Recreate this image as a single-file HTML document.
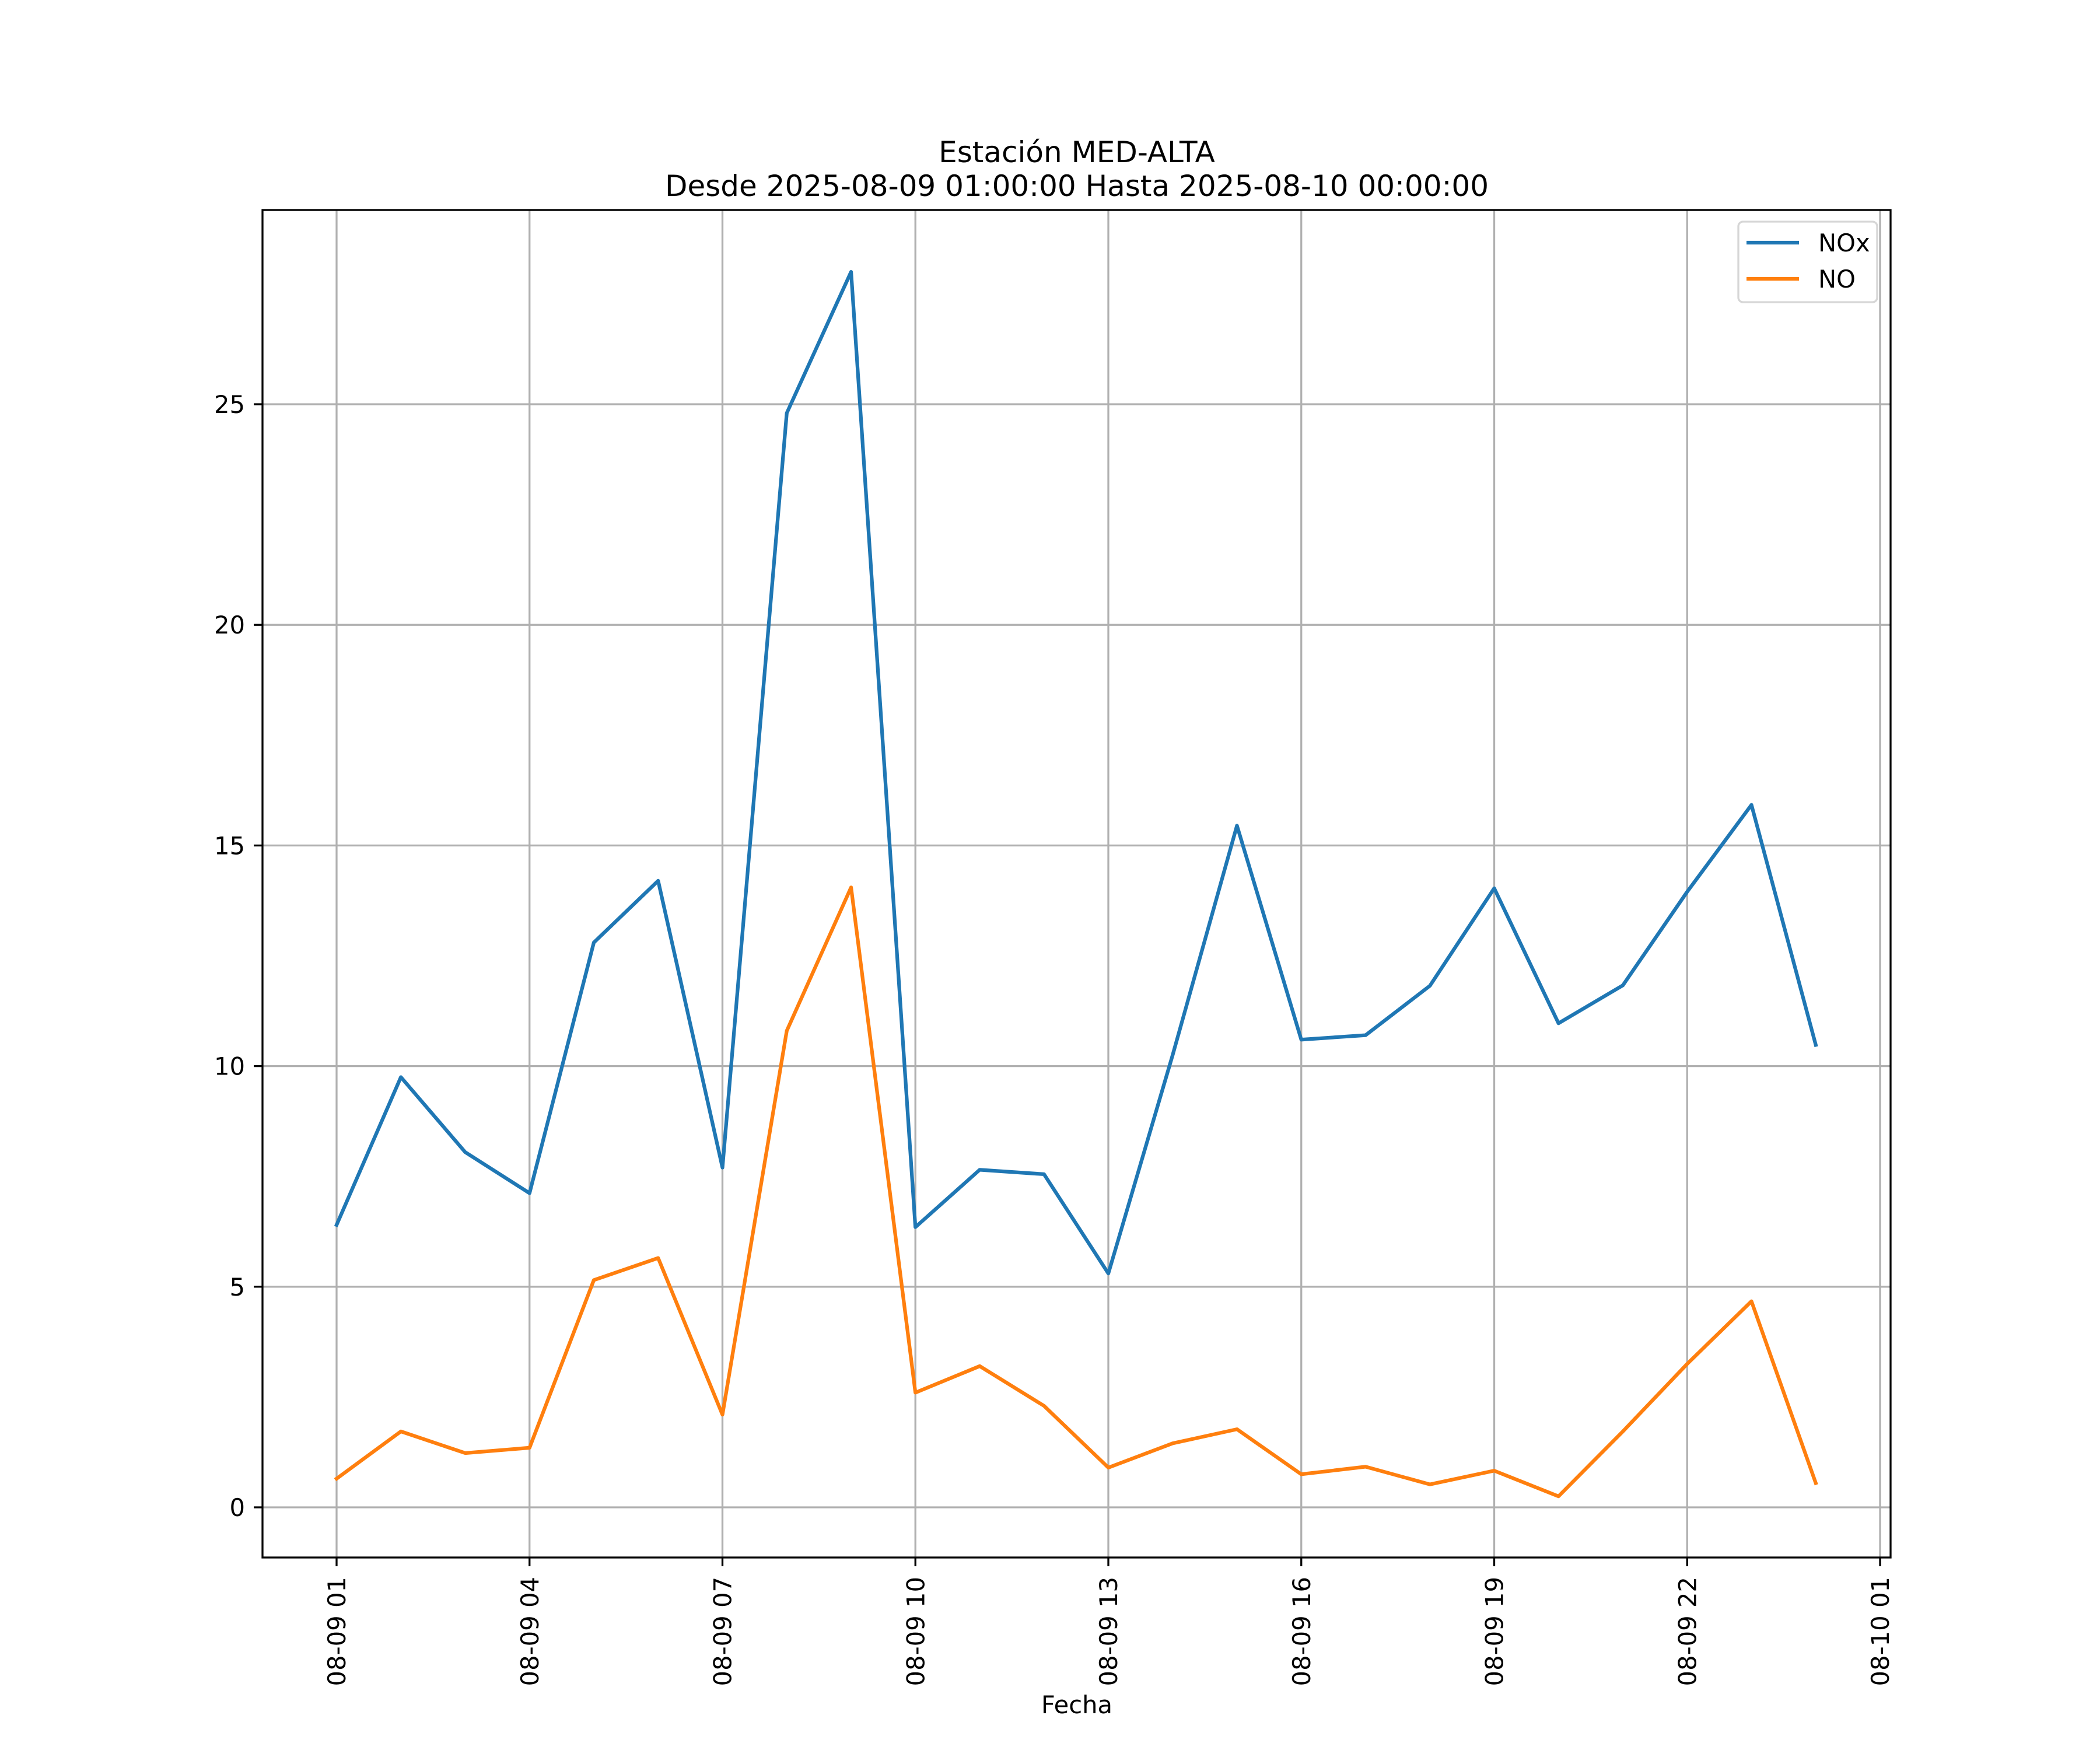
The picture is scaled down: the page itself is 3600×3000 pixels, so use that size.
<!DOCTYPE html>
<html><head><meta charset="utf-8"><style>html,body{margin:0;padding:0;background:#fff}svg{display:block}text{font-family:"DejaVu Sans","Liberation Sans",sans-serif;fill:#000}</style></head>
<body>
<svg id="chart" width="3600" height="3000" viewBox="0 0 3600 3000" xmlns="http://www.w3.org/2000/svg">
<rect width="3600" height="3000" fill="#fff"/>
<g id="grid"></g>
<g id="series"></g>
<rect x="450" y="360" width="2791" height="2310" fill="none" stroke="#000" stroke-width="3.3"/>
<g id="ticks"></g>
<text x="1846" y="278" font-size="50" text-anchor="middle">Estación MED-ALTA</text>
<text x="1846" y="336" font-size="50" text-anchor="middle">Desde 2025-08-09 01:00:00 Hasta 2025-08-10 00:00:00</text>
<text x="1846" y="2937" font-size="41.7" text-anchor="middle">Fecha</text>
<g>
<rect x="2980" y="380" width="238" height="138" rx="8" fill="#fff" fill-opacity="0.8" stroke="#d6d6d6" stroke-width="3.3"/>
<line x1="2994" y1="416" x2="3084" y2="416" stroke="#1f77b4" stroke-width="6.25"/>
<text x="3117" y="431" font-size="41.7">NOx</text>
<line x1="2994" y1="478" x2="3084" y2="478" stroke="#ff7f0e" stroke-width="6.25"/>
<text x="3117" y="493" font-size="41.7">NO</text>
</g>
</svg>
<script>
const hours = [1,2,3,4,5,6,7,8,9,10,11,12,13,14,15,16,17,18,19,20,21,22,23,24];
const noxValues = [6.4,9.75,8.05,7.12,12.8,14.2,7.7,24.8,28.0,6.35,7.65,7.55,5.3,10.25,15.45,10.6,10.7,11.82,14.03,10.97,11.83,13.95,15.92,10.48];
const noValues = [0.65,1.72,1.23,1.35,5.15,5.65,2.1,10.8,14.05,2.6,3.2,2.3,0.9,1.45,1.77,0.75,0.92,0.52,0.83,0.25,1.72,3.25,4.67,0.55];
const xTickHours = [1,4,7,10,13,16,19,22,25];
const xTickLabels = ["08-09 01","08-09 04","08-09 07","08-09 10","08-09 13","08-09 16","08-09 19","08-09 22","08-10 01"];
const yTicks = [0,5,10,15,20,25];

const NS="http://www.w3.org/2000/svg";
function xs(h){return 577+(h-1)*(3223-577)/24;}
function ys(v){return 2584-v*(2584-693)/25;}
function mk(tag,attrs,parent){const e=document.createElementNS(NS,tag);for(const k in attrs)e.setAttribute(k,attrs[k]);parent.appendChild(e);return e;}
const grid=document.getElementById('grid'),ticks=document.getElementById('ticks'),series=document.getElementById('series');
xTickHours.forEach((h,i)=>{
  const x=xs(h);
  const g=mk('line',{x1:x,y1:360,x2:x,y2:2670,stroke:'#b0b0b0','stroke-width':3.3},grid);
  
  
  mk('line',{x1:x,y1:2670,x2:x,y2:2685,stroke:'#000','stroke-width':3.3},ticks);
  const t=mk('text',{x:0,y:0,'font-size':41.7,'text-anchor':'end',transform:`translate(${x+15},2703) rotate(-90)`},ticks);
  t.textContent=xTickLabels[i];
  
  
});
yTicks.forEach(v=>{
  const y=ys(v);
  const g=mk('line',{x1:450,y1:y,x2:3241,y2:y,stroke:'#b0b0b0','stroke-width':3.3},grid);
  
  
  mk('line',{x1:435,y1:y,x2:450,y2:y,stroke:'#000','stroke-width':3.3},ticks);
  const t=mk('text',{x:420,y:y+15,'font-size':41.7,'text-anchor':'end'},ticks);
  t.textContent=v;
  
  
});
function line(vals,color,name){
  const p=mk('polyline',{points:vals.map((v,i)=>xs(hours[i])+','+ys(v)).join(' '),fill:'none',stroke:color,'stroke-width':6.25,'stroke-linejoin':'round','stroke-linecap':'square'},series);
  
  
}
line(noxValues,'#1f77b4','nox-line');
line(noValues,'#ff7f0e','no-line');
</script>
</body></html>
